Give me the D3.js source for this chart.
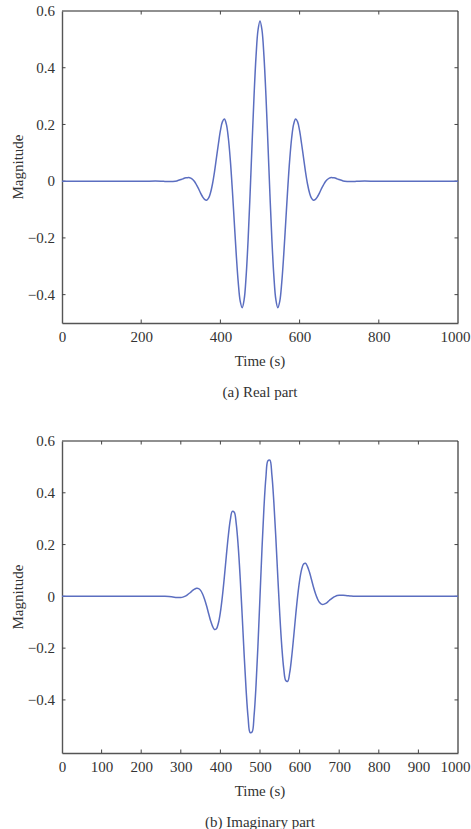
<!DOCTYPE html>
<html><head><meta charset="utf-8">
<script src="https://cdn.jsdelivr.net/npm/d3@7"></script>
<style>
html,body{margin:0;padding:0;background:#fff;}
svg text{font-family:"Liberation Serif","Times New Roman",serif !important;fill:#333;}
</style></head>
<body><svg id="c" width="471" height="829"></svg>
<script>
const timeSamples = [0,100,200,250,260,270,280,290,
300,305,310,315,320,325,330,335,340,345,350,355,360,365,370,375,380,385,390,395,
400,405,410,415,420,425,430,435,440,445,450,455,460,465,470,475,480,485,490,495,
500,505,510,515,520,525,530,535,540,545,550,555,560,565,570,575,580,585,590,595,
600,605,610,615,620,625,630,635,640,645,650,655,660,665,670,675,680,685,690,695,
700,710,720,730,740,750,800,900,1000];

const realPart = [0,0,0,0,-0.001,-0.0015,-0.001,0.001,
0.006,0.008,0.011,0.012,0.013,0.011,0.006,-0.002,-0.014,-0.027,-0.042,-0.055,-0.064,-0.067,-0.060,-0.041,-0.010,0.032,0.082,0.132,
0.178,0.209,0.219,0.201,0.153,0.075,-0.027,-0.143,-0.258,-0.356,-0.423,-0.446,-0.417,-0.334,-0.206,-0.044,0.133,0.302,0.441,0.533,
0.565,0.533,0.441,0.302,0.133,-0.044,-0.206,-0.334,-0.417,-0.446,-0.423,-0.356,-0.258,-0.143,-0.027,0.075,0.153,0.201,0.219,0.209,
0.178,0.132,0.082,0.032,-0.010,-0.041,-0.060,-0.067,-0.064,-0.055,-0.042,-0.027,-0.014,-0.002,0.006,0.011,0.013,0.012,0.011,0.008,
0.006,0.001,-0.001,-0.0015,-0.001,0,0,0,0];

const imagPart = [0,0,0,0,0,-0.001,-0.0025,-0.004,
-0.004,-0.003,0,0.004,0.010,0.016,0.023,0.028,0.031,0.030,0.023,0.009,-0.011,-0.036,-0.065,-0.093,-0.115,-0.128,-0.125,-0.103,
-0.061,0,0.075,0.157,0.234,0.295,0.328,0.325,0.280,0.193,0.071,-0.074,-0.226,-0.363,-0.469,-0.526,-0.524,-0.461,-0.343,-0.183,
0,0.183,0.343,0.461,0.524,0.526,0.469,0.363,0.226,0.074,-0.071,-0.193,-0.280,-0.325,-0.328,-0.295,-0.234,-0.157,-0.075,0,
0.061,0.103,0.125,0.128,0.115,0.093,0.065,0.036,0.011,-0.009,-0.023,-0.030,-0.031,-0.028,-0.023,-0.016,-0.010,-0.004,0,0.003,
0.004,0.004,0.0025,0.001,0,0,0,0,0];

const xTicksA = [0,200,400,600,800,1000];
const xTicksB = [0,100,200,300,400,500,600,700,800,900,1000];
const yTicks = [-0.4,-0.2,0,0.2,0.4,0.6];
const captions = ["(a) Real part","(b) Imaginary part"];
const xTitle = "Time (s)";
const yTitle = "Magnitude";

const FONT = '"Liberation Serif","Times New Roman",serif';
const W = 471;
const svg = d3.select("#c");
const fmt = v => v < 0 ? "\u2212" + Math.abs(v) : String(v);

function panel(cfg){
  const {top,bottom,left,right,yDomain,values,xTicks,caption,titleY,captionY} = cfg;
  const x = d3.scaleLinear().domain([0,1000]).range([left,right]);
  const y = d3.scaleLinear().domain(yDomain).range([bottom,top]);
  const g = svg.append("g");
  g.append("line").attr("x1",left).attr("x2",right).attr("y1",top).attr("y2",top).attr("stroke","#222").attr("stroke-width",1.2);
  g.append("line").attr("x1",right).attr("x2",right).attr("y1",top).attr("y2",bottom).attr("stroke","#333").attr("stroke-width",1.2);
  const xb = g.append("g").attr("transform",`translate(0,${bottom})`)
    .call(d3.axisBottom(x).tickValues(xTicks).tickSize(0).tickPadding(8).tickFormat(d=>String(d)));
  xb.attr("font-family",FONT).attr("font-size",15);
  xb.select(".domain").attr("stroke","#555").attr("stroke-width",1.4);
  xb.selectAll("text").attr("fill","#333");
  // keep the last label inside the page
  xb.selectAll(".tick").filter(d=>d===1000).select("text")
    .attr("text-anchor","end").attr("x", W - 1 - x(1000));
  const yl = g.append("g").attr("transform",`translate(${left},0)`)
    .call(d3.axisLeft(y).tickValues(yTicks).tickSize(0).tickPadding(7).tickFormat(fmt));
  yl.attr("font-family",FONT).attr("font-size",15);
  yl.select(".domain").attr("stroke","#555").attr("stroke-width",1.4);
  yl.selectAll("text").attr("fill","#333");
  xTicks.forEach(t=>{
    if(t>0 && t<1000){
      g.append("line").attr("x1",x(t)).attr("x2",x(t)).attr("y1",bottom).attr("y2",bottom-3.5).attr("stroke","#444");
      g.append("line").attr("x1",x(t)).attr("x2",x(t)).attr("y1",top).attr("y2",top+3.5).attr("stroke","#444");
    }
  });
  yTicks.forEach(t=>{
    const py = y(t);
    if(py>top+1 && py<bottom-1){
      g.append("line").attr("x1",left).attr("x2",left+3.5).attr("y1",py).attr("y2",py).attr("stroke","#444");
      g.append("line").attr("x1",right).attr("x2",right-3.5).attr("y1",py).attr("y2",py).attr("stroke","#444");
    }
  });
  const data = timeSamples.map((t,i)=>({t,v:values[i]}));
  g.append("path").datum(data)
    .attr("fill","none").attr("stroke","#5b6ec0").attr("stroke-width",1.5)
    .attr("d",d3.line().x(d=>x(d.t)).y(d=>y(d.v)).curve(d3.curveCatmullRom.alpha(0.5)));
  g.append("text").attr("x",x(500)).attr("y",titleY)
    .attr("text-anchor","middle").attr("font-size",15).text(xTitle);
  g.append("text").attr("transform",`translate(23,${(top+bottom)/2}) rotate(-90)`)
    .attr("text-anchor","middle").attr("font-size",15).text(yTitle);
  g.append("text").attr("x",x(500)).attr("y",captionY)
    .attr("text-anchor","middle").attr("font-size",15).text(caption);
}

panel({top:11,bottom:323,left:62,right:458,yDomain:[-0.5,0.6],values:realPart,xTicks:xTicksA,caption:captions[0],titleY:366,captionY:397});
panel({top:441,bottom:753,left:62,right:458,yDomain:[-0.605,0.6],values:imagPart,xTicks:xTicksB,caption:captions[1],titleY:796,captionY:827});
</script></body></html>
